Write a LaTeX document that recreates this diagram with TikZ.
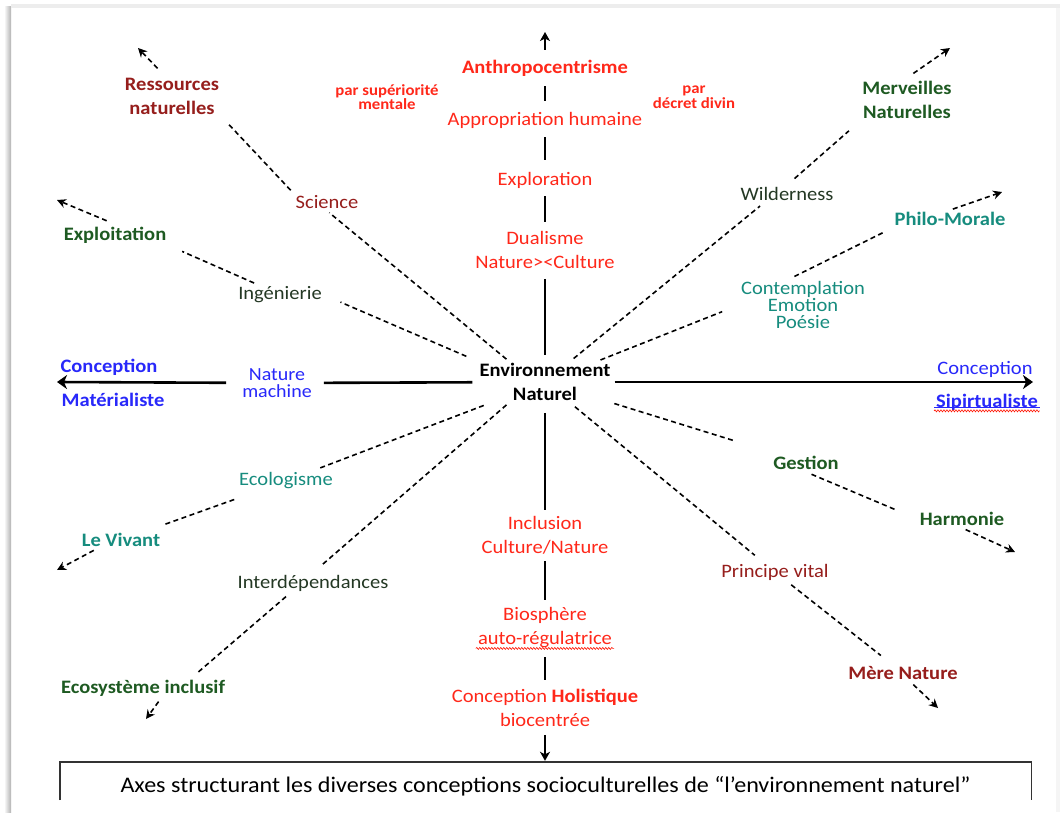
\documentclass[tikz,border=0pt]{standalone}
\usepackage{fontspec}
\setmainfont{Carlito}[FakeStretch=1.08]
\usetikzlibrary{arrows.meta,decorations.pathmorphing}
\definecolor{axred}{RGB}{255,40,26}
\definecolor{brick}{RGB}{150,30,28}
\definecolor{leaf}{RGB}{30,90,34}
\definecolor{moss}{RGB}{36,56,36}
\definecolor{lagoon}{RGB}{22,140,126}
\definecolor{ink}{RGB}{40,40,250}

\begin{document}
\begin{tikzpicture}[x=1pt,y=-1pt,
  lbl/.style={inner sep=2pt, align=center, font=\fontsize{19}{24}\selectfont},
  blbl/.style={inner sep=2pt, align=center, font=\fontsize{19}{24}\selectfont\bfseries},
  small/.style={inner sep=1pt, align=center, font=\fontsize{15.5}{14.5}\selectfont\bfseries, text=axred},
  axis/.style={line width=2.6pt, black},
  axtip/.style={-{Stealth[length=10pt,width=14pt,inset=3pt]}},
  vtip/.style={-{Stealth[length=9pt,width=10pt,inset=2.5pt]}},
  dl/.style={line width=1.6pt, dash pattern=on 5pt off 3.5pt, black},
  tipd/.style={-{Stealth[length=9pt,width=9pt,inset=3pt]}},
  wavy/.style={red!85!orange, line width=0.6pt, decorate,
    decoration={snake, amplitude=1pt, segment length=3pt}}
]
\useasboundingbox (0,0) rectangle (1060,812);
\clip (0,0) rectangle (1060,812);

% page sheet with its soft edges
\fill[white] (0,0) rectangle (1060,812);
\fill[left color=white, right color=black!30] (4,6) rectangle (11,812);
\fill[black!7] (11,4) rectangle (1060,8);
\fill[black!4] (1056,8) rectangle (1060,812);

% vertical axis labels
\node[blbl, text=axred] (anthro) at (545,68) {Anthropocentrisme};
\node[small] (supm) at (387,97) {par supériorité\\mentale};
\node[lbl, text=axred] (appro) at (545,120) {Appropriation humaine};
\node[small] (decret) at (694,97) {par\\décret divin};
\node[lbl, text=axred] (explo) at (545,180) {Exploration};
\node[lbl, text=axred] (dual) at (545,250) {Dualisme\\Nature><Culture};
\node[blbl] (env) at (545,382) {Environnement\\Naturel};
\node[lbl, text=axred] (incl) at (545,535) {Inclusion\\Culture/Nature};
\node[lbl, text=axred] (bio) at (545,628) {Biosphère\\auto-régulatrice};
\node[lbl, text=axred] (hol) at (545,708) {Conception \textbf{Holistique}\\biocentrée};

% horizontal axis labels
\node[blbl, text=ink] (matC) at (109,367) {Conception};
\node[blbl, text=ink] (matM) at (113,400) {Matérialiste};
\node[lbl, text=ink, font=\fontsize{18.5}{17.5}\selectfont] (natm) at (277,383) {Nature\\machine};
\node[lbl, text=ink] (spiC) at (985,369) {Conception};
\node[blbl, text=ink] (spiS) at (987,402) {Sipirtualiste};

% upper left branch
\node[blbl, text=brick] (res) at (172,96) {Ressources\\naturelles};
\node[lbl, text=brick] (sci) at (327,202) {Science};
\node[blbl, text=leaf] (expl) at (115,235) {Exploitation};
\node[lbl, text=moss] (ing) at (280,295) {Ingénierie};

% upper right branch
\node[blbl, text=leaf] (merv) at (907,100) {Merveilles\\Naturelles};
\node[lbl, text=moss] (wild) at (787,194) {Wilderness};
\node[blbl, text=lagoon] (philo) at (950,219) {Philo-Morale};
\node[lbl, text=lagoon, font=\fontsize{19}{17}\selectfont] (cont) at (803,305) {Contemplation\\Emotion\\Poésie};

% lower right branch
\node[blbl, text=leaf] (gest) at (806,463) {Gestion};
\node[blbl, text=leaf] (harm) at (962,519) {Harmonie};
\node[lbl, text=brick] (princ) at (775,572) {Principe vital};
\node[blbl, text=brick] (mere) at (903,673) {Mère Nature};

% lower left branch
\node[lbl, text=lagoon] (ecol) at (286,481) {Ecologisme};
\node[blbl, text=lagoon] (viv) at (121,540) {Le Vivant};
\node[lbl, text=moss] (inter) at (313,583) {Interdépendances};
\node[blbl, text=leaf] (ecos) at (143,688) {Ecosystème inclusif};

% caption box (open at the bottom)
\node[inner sep=0pt, minimum width=971pt, minimum height=38pt,
      text height=24pt, text depth=2pt,
      font=\fontsize{22.3}{24}\selectfont] (cap) at (545.5,781)
  {Axes structurant les diverses conceptions socioculturelles de “l’environnement naturel”};
\draw[line width=1.4pt, black!80] (cap.south west) -- (cap.north west) -- (cap.north east) -- (cap.south east);

% arrow ends
\coordinate (tTop) at (545,32);
\coordinate (tLeft) at (57,382);
\coordinate (tRight) at (1033,382);
\coordinate (tRes) at (138,48);
\coordinate (tExpl) at (57,200);
\coordinate (tMerv) at (950,48);
\coordinate (tPhilo) at (1002,192);
\coordinate (tHarm) at (1015,552);
\coordinate (tMere) at (938,708);
\coordinate (tViv) at (57,570);
\coordinate (tEcos) at (146,719);

% vertical axis
\draw[axis, vtip, shorten <=8pt] (anthro) -- (tTop);
\draw[axis, shorten <=8pt, shorten >=9pt] (anthro) -- (appro);
\draw[axis, shorten <=7pt, shorten >=10pt] (appro) -- (explo);
\draw[axis, shorten <=6pt, shorten >=7pt] (explo) -- (dual);
\draw[axis, shorten <=8pt, shorten >=6pt] (dual) -- (env);
\draw[axis, shorten <=10pt, shorten >=4pt] (env) -- (incl);
\draw[axis, shorten <=5pt, shorten >=6pt] (incl) -- (bio);
\draw[axis, shorten <=7pt, shorten >=7pt] (bio) -- (hol);
\draw[axis, vtip, shorten <=6pt, shorten >=1pt] (hol) -- (hol |- cap.north);

% horizontal axis
\draw[axis, shorten <=5pt, shorten >=10pt] (env) -- (natm);
\draw[axis, axtip, shorten <=14pt] (natm) -- (tLeft);
\draw[axis, axtip, shorten <=2pt] (env) -- (tRight);

% dashed branches
\draw[dl, shorten <=3pt, shorten >=3pt] (env.150) -- (sci.south);
\draw[dl, shorten <=4pt, shorten >=8pt] (sci.north west) -- (res.south east);
\draw[dl, tipd, shorten <=10pt] (res.110) -- (tRes);
\draw[dl, shorten <=12pt, shorten >=18pt] (env.north west) -- (ing.east);
\draw[dl, shorten <=4pt, shorten >=15pt] (ing.155) -- (expl.south east);
\draw[dl, tipd, shorten <=10pt] (expl.85) -- (tExpl);
\draw[dl, shorten <=4pt, shorten >=5pt] (env) -- (wild.-159);
\draw[dl, shorten <=10pt, shorten >=15pt] (wild.north) -- (merv.south west);
\draw[dl, tipd, shorten <=10pt] (merv.95) -- (tMerv);
\draw[dl, shorten <=3pt, shorten >=18pt] (env) -- (cont.west);
\draw[dl, shorten <=6pt, shorten >=11pt] ([xshift=-14pt]cont.north) -- (philo.south west);
\draw[dl, tipd, shorten <=3pt] (philo.north) -- (tPhilo);
\draw[dl, shorten <=2pt, shorten >=44pt] (env) -- (gest);
\draw[dl, shorten <=6pt, shorten >=22pt] (gest.south) -- (harm.west);
\draw[dl, tipd, shorten <=4pt] (harm.south) -- (tHarm);
\draw[dl, shorten <=6pt, shorten >=10pt] (env) -- (princ);
\draw[dl, shorten <=4pt, shorten >=14pt] (princ) -- (mere);
\draw[dl, tipd, shorten <=4pt] (mere.-50) -- (tMere);
\draw[dl, shorten <=7pt, shorten >=7pt] (env) -- (ecol);
\draw[dl, shorten <=24pt, shorten >=20pt] (ecol) -- (viv);
\draw[dl, tipd, shorten <=3pt] (viv.-160) -- (tViv);
\draw[dl, shorten <=3pt, shorten >=10pt] (env.-150) -- (inter.north);
\draw[dl, shorten <=5pt, shorten >=8pt] (inter.-156) -- (ecos.12);
\draw[dl, tipd, shorten <=4pt] (ecos.-30) -- (tEcos);

% spell-check underlines
\draw[wavy] ([yshift=2pt]bio.south west) -- ([yshift=2pt]bio.south east);
\draw[ink, line width=0.6pt] ([yshift=5pt]spiS.south west) -- ([yshift=5pt]spiS.south east);
\draw[wavy] ([yshift=1.5pt]spiS.south west) -- ([yshift=1.5pt]spiS.south east);
\end{tikzpicture}
\end{document}
